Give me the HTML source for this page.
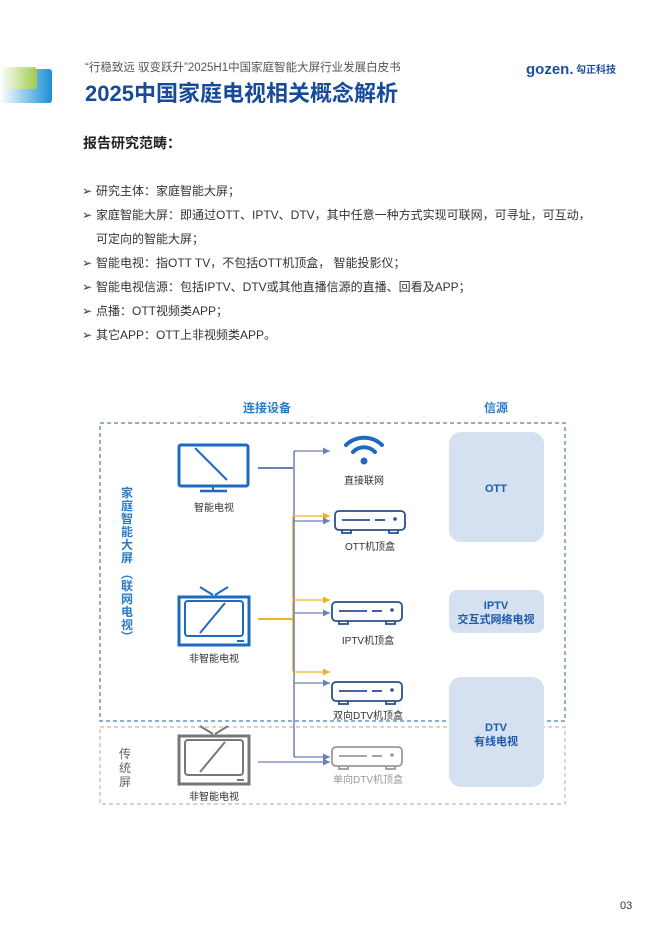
<!DOCTYPE html>
<html><head><meta charset="utf-8"><style>
html,body{margin:0;padding:0;background:#fff}
svg{display:block}
text{font-family:"Liberation Sans","Noto Sans CJK SC",sans-serif}
</style></head><body>
<svg width="665" height="949" viewBox="0 0 665 949" xmlns="http://www.w3.org/2000/svg">
<defs>
<linearGradient id="g1" x1="0" x2="1"><stop offset="0" stop-color="#fff"/><stop offset="1" stop-color="#1b8fd6"/></linearGradient>
<linearGradient id="g2" x1="0" x2="1"><stop offset="0" stop-color="#fff"/><stop offset="1" stop-color="#a6cf3a"/></linearGradient>
<marker id="ab" markerWidth="8" markerHeight="8" refX="7" refY="4" orient="auto" markerUnits="userSpaceOnUse"><path d="M0,0.5 L7,4 L0,7.5z" fill="#6d7fb8"/></marker>
<marker id="ao" markerWidth="8" markerHeight="8" refX="7" refY="4" orient="auto" markerUnits="userSpaceOnUse"><path d="M0,0.5 L7,4 L0,7.5z" fill="#f0b028"/></marker>
</defs>
<rect x="0" y="69" width="52" height="34" rx="3" fill="url(#g1)"/>
<rect x="0" y="67" width="37" height="22" rx="3" fill="url(#g2)" opacity="0.9"/>
<text x="85" y="71" font-size="11.5" fill="#555">“行稳致远  驭变跃升”2025H1中国家庭智能大屏行业发展白皮书</text>
<text x="526" y="74" font-size="15" font-weight="bold" fill="#1d4f9c">gozen.</text>
<text x="576" y="73" font-size="10" font-weight="bold" fill="#1d4f9c">勾正科技</text>
<text x="85" y="101" font-size="22" font-weight="bold" fill="#174a98">2025中国家庭电视相关概念解析</text>
<text x="83" y="148" font-size="14" font-weight="bold" fill="#222">报告研究范畴：</text>
<g font-size="12" fill="#333">
<text x="82" y="195">➢</text><text x="96" y="195">研究主体：家庭智能大屏；</text>
<text x="82" y="219">➢</text><text x="96" y="219">家庭智能大屏：即通过OTT、IPTV、DTV，其中任意一种方式实现可联网，可寻址，可互动，</text>
<text x="96" y="243">可定向的智能大屏；</text>
<text x="82" y="267">➢</text><text x="96" y="267">智能电视：指OTT TV，不包括OTT机顶盒， 智能投影仪；</text>
<text x="82" y="291">➢</text><text x="96" y="291">智能电视信源：包括IPTV、DTV或其他直播信源的直播、回看及APP；</text>
<text x="82" y="315">➢</text><text x="96" y="315">点播：OTT视频类APP；</text>
<text x="82" y="339">➢</text><text x="96" y="339">其它APP：OTT上非视频类APP。</text>
</g>
<text x="267" y="412" font-size="12" font-weight="bold" fill="#2a7cc7" text-anchor="middle">连接设备</text>
<text x="496" y="412" font-size="12" font-weight="bold" fill="#2a7cc7" text-anchor="middle">信源</text>
<rect x="100" y="423" width="465" height="298" fill="none" stroke="#4a7fb5" stroke-width="1.2" stroke-dasharray="4,3"/>
<rect x="100" y="727" width="465" height="77" fill="none" stroke="#bbb" stroke-width="1.2" stroke-dasharray="4,3"/>
<rect x="449" y="432" width="95" height="110" rx="12" fill="#d5e1f1"/>
<rect x="449" y="590" width="95" height="43" rx="8" fill="#d5e1f1"/>
<rect x="449" y="677" width="95" height="110" rx="12" fill="#d5e1f1"/>
<g font-size="11" font-weight="bold" fill="#1d5aa8" text-anchor="middle">
<text x="496" y="492">OTT</text>
<text x="496" y="609">IPTV</text><text x="496" y="623">交互式网络电视</text>
<text x="496" y="731">DTV</text><text x="496" y="745">有线电视</text>
</g>
<g font-size="12" font-weight="bold" fill="#2a7cc7" text-anchor="middle">
<text x="127" y="497">家</text><text x="127" y="510">庭</text><text x="127" y="523">智</text><text x="127" y="536">能</text><text x="127" y="549">大</text><text x="127" y="562">屏</text>
<text x="127" y="578">︵</text>
<text x="127" y="590">联</text><text x="127" y="603">网</text><text x="127" y="616">电</text><text x="127" y="629">视</text>
<text x="127" y="641">︶</text>
</g>
<g font-size="12" fill="#666" text-anchor="middle"><text x="125" y="758">传</text><text x="125" y="772">统</text><text x="125" y="786">屏</text></g>
<!-- smart TV -->
<rect x="179" y="445" width="69" height="41" rx="2" fill="none" stroke="#1d6bc0" stroke-width="3"/>
<line x1="195" y1="448" x2="227" y2="480" stroke="#1d6bc0" stroke-width="2"/>
<line x1="213" y1="486" x2="213" y2="491" stroke="#1d6bc0" stroke-width="2"/>
<line x1="200" y1="491" x2="227" y2="491" stroke="#1d6bc0" stroke-width="2.5"/>
<text x="214" y="511" font-size="10" fill="#333" text-anchor="middle">智能电视</text>
<!-- non-smart TV -->
<g fill="none" stroke="#1d6bc0">
<rect x="179" y="597" width="70" height="48" stroke-width="3"/>
<rect x="185" y="601" width="58" height="35" rx="3" stroke-width="2"/>
<line x1="200" y1="633" x2="225" y2="603" stroke-width="2"/>
<line x1="200" y1="587" x2="213" y2="595" stroke-width="2"/><line x1="228" y1="587" x2="215" y2="595" stroke-width="2"/>
<line x1="237" y1="641" x2="244" y2="641" stroke-width="2"/>
</g>
<text x="214" y="662" font-size="10" fill="#333" text-anchor="middle">非智能电视</text>
<!-- gray TV -->
<g fill="none" stroke="#777">
<rect x="179" y="736" width="70" height="48" stroke-width="3"/>
<rect x="185" y="740" width="58" height="35" rx="3" stroke-width="2"/>
<line x1="200" y1="772" x2="225" y2="742" stroke-width="2"/>
<line x1="200" y1="726" x2="213" y2="734" stroke-width="2"/><line x1="228" y1="726" x2="215" y2="734" stroke-width="2"/>
<line x1="237" y1="780" x2="244" y2="780" stroke-width="2"/>
</g>
<text x="214" y="800" font-size="10" fill="#333" text-anchor="middle">非智能电视</text>
<!-- wifi -->
<g fill="none" stroke="#1d6bc0" stroke-width="4" stroke-linecap="round">
<path d="M346,445 A26,26 0 0 1 382,445"/><path d="M353,452 A15,15 0 0 1 375,452"/>
</g>
<circle cx="364" cy="461" r="3.5" fill="#1d6bc0"/>
<text x="364" y="484" font-size="10" fill="#333" text-anchor="middle">直接联网</text>
<!-- boxes -->
<g id="stb" fill="none" stroke="#2a4f8f" stroke-width="1.8">
<rect x="335" y="511" width="70" height="19" rx="4"/>
<line x1="342" y1="520" x2="370" y2="520"/><line x1="375" y1="520" x2="385" y2="520"/>
<path d="M342,530 v3 h9 v-3 M389,530 v3 h9 v-3"/>
</g>
<circle cx="395" cy="519" r="1.8" fill="#2a4f8f"/>
<text x="370" y="550" font-size="10" fill="#333" text-anchor="middle">OTT机顶盒</text>
<use href="#stb" transform="translate(-3,91)"/><circle cx="392" cy="610" r="1.8" fill="#2a4f8f"/>
<text x="368" y="644" font-size="10" fill="#333" text-anchor="middle">IPTV机顶盒</text>
<use href="#stb" transform="translate(-3,171)"/><circle cx="392" cy="690" r="1.8" fill="#2a4f8f"/>
<text x="368" y="719" font-size="10" fill="#333" text-anchor="middle">双向DTV机顶盒</text>
<g fill="none" stroke="#999" stroke-width="1.8" transform="translate(-3,236)">
<rect x="335" y="511" width="70" height="19" rx="4"/>
<line x1="342" y1="520" x2="370" y2="520"/><line x1="375" y1="520" x2="385" y2="520"/>
<path d="M342,530 v3 h9 v-3 M389,530 v3 h9 v-3"/>
</g>
<circle cx="392" cy="755" r="1.8" fill="#999"/>
<text x="368" y="783" font-size="10" fill="#999" text-anchor="middle">单向DTV机顶盒</text>
<!-- connectors -->
<line x1="258" y1="468" x2="293" y2="468" stroke="#6d7fb8" stroke-width="2"/>
<line x1="258" y1="619" x2="293" y2="619" stroke="#f0b028" stroke-width="2"/>
<line x1="293" y1="516" x2="293" y2="672" stroke="#f0b028" stroke-width="1.5"/>
<line x1="294" y1="451" x2="294" y2="757" stroke="#6d7fb8" stroke-width="1.5"/>
<g stroke-width="1.2">
<line x1="293" y1="516" x2="330" y2="516" stroke="#f0b028" marker-end="url(#ao)"/>
<line x1="293" y1="521" x2="330" y2="521" stroke="#6d7fb8" marker-end="url(#ab)"/>
<line x1="294" y1="451" x2="330" y2="451" stroke="#6d7fb8" marker-end="url(#ab)"/>
<line x1="293" y1="600" x2="330" y2="600" stroke="#f0b028" marker-end="url(#ao)"/>
<line x1="294" y1="613" x2="330" y2="613" stroke="#6d7fb8" marker-end="url(#ab)"/>
<line x1="293" y1="672" x2="330" y2="672" stroke="#f0b028" marker-end="url(#ao)"/>
<line x1="294" y1="683" x2="330" y2="683" stroke="#6d7fb8" marker-end="url(#ab)"/>
<line x1="294" y1="757" x2="330" y2="757" stroke="#6d7fb8" marker-end="url(#ab)"/>
<line x1="258" y1="762" x2="330" y2="762" stroke="#6d7fb8" marker-end="url(#ab)"/>
</g>
<text x="620" y="909" font-size="11" fill="#333">03</text>
</svg>
</body></html>
